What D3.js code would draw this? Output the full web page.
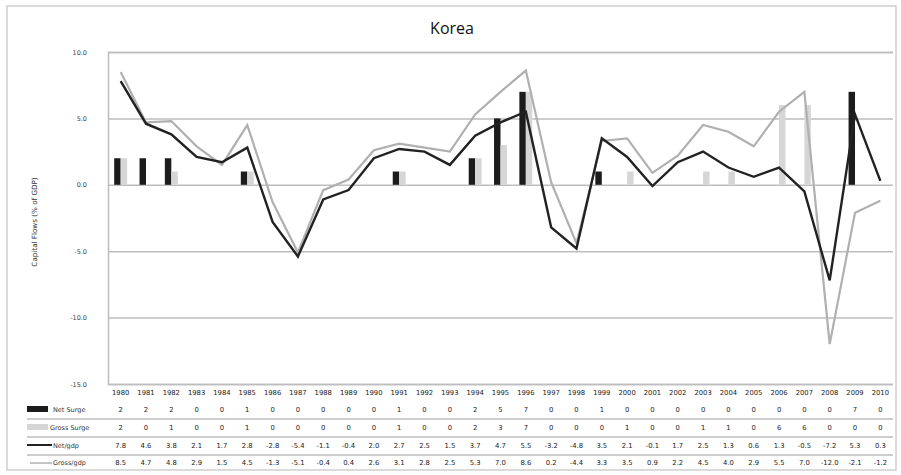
<!DOCTYPE html>
<html>
<head>
<meta charset="utf-8">
<script src="https://cdn.jsdelivr.net/npm/d3@7"></script>
<style>
  html, body { margin: 0; padding: 0; background: #fff; }
  svg { display: block; }
  text { font-family: "DejaVu Sans", sans-serif; }
</style>
</head>
<body>
<svg id="chart" width="901" height="475"></svg>
<script>
// ---- data ----
const years = ["1980","1981","1982","1983","1984","1985","1986","1987","1988","1989","1990","1991","1992","1993","1994","1995","1996","1997","1998","1999","2000","2001","2002","2003","2004","2005","2006","2007","2008","2009","2010"];
const netSurge   = [2,2,2,0,0,1,0,0,0,0,0,1,0,0,2,5,7,0,0,1,0,0,0,0,0,0,0,0,0,7,0];
const grossSurge = [2,0,1,0,0,1,0,0,0,0,0,1,0,0,2,3,7,0,0,0,1,0,0,1,1,0,6,6,0,0,0];
const netGdp   = [7.8,4.6,3.8,2.1,1.7,2.8,-2.8,-5.4,-1.1,-0.4,2.0,2.7,2.5,1.5,3.7,4.7,5.5,-3.2,-4.8,3.5,2.1,-0.1,1.7,2.5,1.3,0.6,1.3,-0.5,-7.2,5.3,0.3];
const grossGdp = [8.5,4.7,4.8,2.9,1.5,4.5,-1.3,-5.1,-0.4,0.4,2.6,3.1,2.8,2.5,5.3,7.0,8.6,0.2,-4.4,3.3,3.5,0.9,2.2,4.5,4.0,2.9,5.5,7.0,-12.0,-2.1,-1.2];
const yTicks = [10, 5, 0, -5, -10, -15];
const title = "Korea";
const yTitle = "Capital Flows (% of GDP)";
const seriesNames = ["Net Surge", "Gross Surge", "Net/gdp", "Gross/gdp"];

// ---- layout ----
const svg = d3.select("#chart");
const L = 108, R = 893, T = 52, B = 384;
const x = d3.scaleBand().domain(years).range([L, R]).padding(0);
const bw = x.bandwidth();
const xs = d3.scaleBand().domain(["net","gross"]).range([bw*0.245, bw*0.755]).padding(0);
const y = d3.scaleLinear().domain([-15, 10]).range([B, T]);
const cx = d => x(d) + bw/2;
const f1 = v => d3.format(".1f")(v).replace("\u2212", "-");

const darkC = "#1c1c1c", lightC = "#d6d6d6", gridC = "#bdbdbd";

// outer border
svg.append("rect").attr("x", 7).attr("y", 6).attr("width", 889).attr("height", 464)
  .attr("fill", "none").attr("stroke", "#cfcfcf").attr("stroke-width", 1.5);

// title
svg.append("text").attr("x", 452).attr("y", 34).attr("text-anchor", "middle")
  .style("font-family", "'Open Sans', sans-serif").style("font-size", "16px").attr("fill", "#111")
  .text(title);

// grid
const yAxis = d3.axisLeft(y).tickValues(yTicks).tickSize(-(R - L)).tickFormat(f1);
const gy = svg.append("g").attr("transform", `translate(${L},0)`).call(yAxis);
gy.select(".domain").attr("stroke", gridC).attr("stroke-width", 1.5);
gy.selectAll(".tick line").attr("stroke", gridC).attr("stroke-width", 1.5);
gy.selectAll(".tick text").attr("x", -21).style("font-size", "6.5px").attr("fill", "#444")
  .style("font-family", "'DejaVu Sans', sans-serif");

// y title
svg.append("text").attr("transform", "translate(37,222) rotate(-90)").attr("text-anchor", "middle")
  .style("font-size", "7.2px").attr("fill", "#333").text(yTitle);

// bars
const barData = years.map((yr, i) => ({ yr, net: netSurge[i], gross: grossSurge[i] }));
svg.append("g").selectAll("rect.net").data(barData.filter(d => d.net > 0)).join("rect")
  .attr("x", d => x(d.yr) + xs("net")).attr("width", xs.bandwidth())
  .attr("y", d => y(d.net)).attr("height", d => y(0) - y(d.net)).attr("fill", darkC);
svg.append("g").selectAll("rect.gross").data(barData.filter(d => d.gross > 0)).join("rect")
  .attr("x", d => x(d.yr) + xs("gross")).attr("width", xs.bandwidth())
  .attr("y", d => y(d.gross)).attr("height", d => y(0) - y(d.gross)).attr("fill", lightC);

// lines
const line = d3.line().x(d => cx(d[0])).y(d => y(d[1]));
svg.append("path").datum(years.map((yr, i) => [yr, grossGdp[i]]))
  .attr("d", line).attr("fill", "none").attr("stroke", "#b0b0b0").attr("stroke-width", 2.2)
  .attr("stroke-linejoin", "miter");
svg.append("path").datum(years.map((yr, i) => [yr, netGdp[i]]))
  .attr("d", line).attr("fill", "none").attr("stroke", "#222").attr("stroke-width", 2.4)
  .attr("stroke-linejoin", "miter");

// data table
const table = svg.append("g").style("font-size", "6.8px").attr("fill", "#222");
table.selectAll("text.yr").data(years).join("text")
  .attr("x", d => cx(d)).attr("y", 395).attr("text-anchor", "middle").text(d => d);

const rows = [
  { name: seriesNames[0], vals: netSurge, fmt: d => String(d), yb: 412 },
  { name: seriesNames[1], vals: grossSurge, fmt: d => String(d), yb: 430 },
  { name: seriesNames[2], vals: netGdp, fmt: f1, yb: 448 },
  { name: seriesNames[3], vals: grossGdp, fmt: f1, yb: 465 }
];
rows.forEach(r => {
  table.append("g").selectAll("text").data(r.vals).join("text")
    .attr("x", (d, i) => cx(years[i])).attr("y", r.yb).attr("text-anchor", "middle")
    .text(d => r.fmt(d));
});
// separators
[419, 437, 455].forEach(yy => {
  svg.append("line").attr("x1", 27).attr("x2", R).attr("y1", yy).attr("y2", yy)
    .attr("stroke", gridC).attr("stroke-width", 1.5);
});
// legend keys
svg.append("rect").attr("x", 27).attr("y", 406).attr("width", 21).attr("height", 6).attr("fill", darkC);
svg.append("rect").attr("x", 27).attr("y", 424).attr("width", 21).attr("height", 6).attr("fill", lightC);
svg.append("line").attr("x1", 27).attr("x2", 52).attr("y1", 445).attr("y2", 445).attr("stroke", "#222").attr("stroke-width", 2);
svg.append("line").attr("x1", 30).attr("x2", 52).attr("y1", 463).attr("y2", 463).attr("stroke", "#b0b0b0").attr("stroke-width", 1.5);
rows.forEach((r, i) => {
  svg.append("text").attr("x", i === 1 ? 50 : 53).attr("y", r.yb - 0.5)
    .style("font-size", "6.5px").attr("fill", "#333").text(r.name);
});
</script>
</body>
</html>
